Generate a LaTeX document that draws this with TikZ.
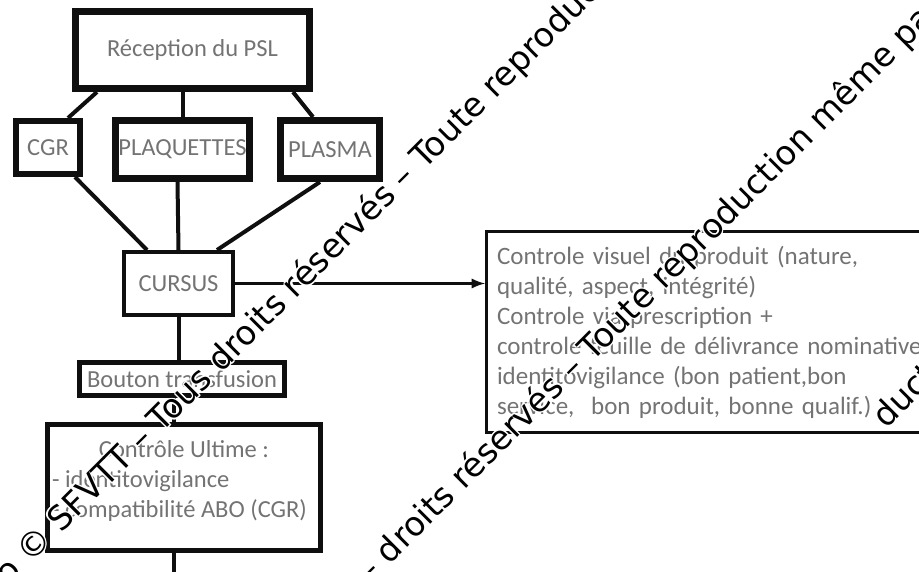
\documentclass[tikz,border=0pt]{standalone}
\usepackage{fontspec}
\setmainfont{Carlito}
\newfontfamily\wmfont{DejaVu Sans}
\usepackage{tikz}
\usepackage{xcolor}
\usetikzlibrary{shapes, arrows, positioning}

\begin{document}
\begin{tikzpicture}[x=1pt, y=-1pt, node distance=3cm and 5cm, on grid, >=latex]

	\definecolor{my_gray_text}{RGB}{115,115,115}
	\definecolor{my_black}{RGB}{15,15,15}

\tikzstyle{block} = [rectangle, draw=my_black, text=my_gray_text, font=\fontsize{24.5}{30}\selectfont, text centered, inner sep=0pt]
\tikzstyle{block_heavy} = [block, line width=7pt]
\tikzstyle{block_mid} = [block, line width=5pt]
\tikzstyle{block_thin} = [block, line width=4pt]
\tikzstyle{blocktext} = [block, line width=3pt, text width=440pt, align=left, inner xsep=10.5pt, minimum height=201pt, font=\fontsize{25}{30}\selectfont]
\tikzstyle{line} = [draw, line width=4pt, my_black]
\tikzstyle{wmark} = [font=\wmfont\fontsize{33.5}{40}\selectfont, rotate=45, anchor=base west, inner sep=0pt]

	\useasboundingbox (0,0) rectangle (919,571);
	\clip (0,0) rectangle (919,571);

	\node [block_heavy, minimum width=234pt, minimum height=77pt] (reception) at (192.5,50) {Réception du PSL};

	\node [block_heavy, below=99.5pt of reception, xshift=-10pt, minimum width=134pt, minimum height=58pt] (plaquettes) {PLAQUETTES};
	\node [block_heavy, left=134.5pt of plaquettes, yshift=2pt, line width=6pt, minimum width=64pt, minimum height=53pt] (cgr) {CGR};
	\node [block_heavy, right=147.5pt of plaquettes, minimum width=99pt, minimum height=58pt] (plasma) {PLASMA};

	\node [block_thin, below=134pt of plaquettes, xshift=-4pt, minimum width=109pt, minimum height=63pt] (cursus) {CURSUS};
	\node [block_mid, below=95.5pt of cursus, xshift=3.5pt, minimum width=205pt, minimum height=33pt] (bouton) {Bouton transfusion};
	\node [block_mid, below=108.5pt of bouton, xshift=2pt, text width=264pt, align=flush left, inner xsep=4.5pt, minimum height=126pt] (ultime) {\makebox[\linewidth]{Contrôle Ultime :}\\- identitovigilance\\\mbox{- compatibilité ABO (CGR)}\rule[-17pt]{0pt}{0pt}};

	\node [blocktext, anchor=west] (visuel) at (485,332) {Controle visuel du produit (nature,\\qualité, aspect, intégrité)\\Controle via prescription +\\controle feuille de délivrance nominative\\identitovigilance (bon patient,bon\\service,~ bon produit, bonne qualif.)};

	\node [coordinate, below=100pt of ultime, xshift=-10.5pt] (suite) {};

	\path [line] ([xshift=25pt]reception.south west) -- ([xshift=-15pt]cgr.north east);
	\path [line] (reception.south -| plaquettes.north) -- (plaquettes.north);
	\path [line] ([xshift=-20pt]reception.south east) -- ([xshift=36pt]plasma.north west);

	\path [line] ([xshift=-8pt]cgr.south east) -- ([xshift=25pt]cursus.north west);
	\path [line] ([xshift=-5pt]plaquettes.south) -- (cursus.north);
	\path [line] ([xshift=43pt]plasma.south west) -- ([xshift=-18pt]cursus.north east);

	\path [line] (cursus.south) -- (cursus.south |- bouton.north);
	\path [line] (bouton.south -| suite) -- (ultime.north -| suite);
	\path [line] (ultime.south -| suite) -- (suite);
	\path [line, ->, line width=3.5pt] (cursus.east) -- (cursus.east -| visuel.west);

	% filigrane
	\foreach \a in {0,45,...,315} {
		\node [wmark, white, shift={(\a:1.5pt)}] (wm_a_\a) at (8,587) {o © SFVTT – Tous droits réservés – Toute reproduction même partielle};
		\node [wmark, white, shift={(\a:1.5pt)}] (wm_b_\a) at (370.5,584.5) {– droits réservés – Toute reproduction même partielle};
		\node [wmark, white, shift={(\a:1.5pt)}] (wm_c_\a) at (886,430) {duction même partielle};
	}
	\node [wmark] (wm_a) at (8,587) {o © SFVTT – Tous droits réservés – Toute reproduction même partielle};
	\node [wmark] (wm_b) at (370.5,584.5) {– droits réservés – Toute reproduction même partielle};
	\node [wmark] (wm_c) at (886,430) {duction même partielle};

\end{tikzpicture}
\end{document}
